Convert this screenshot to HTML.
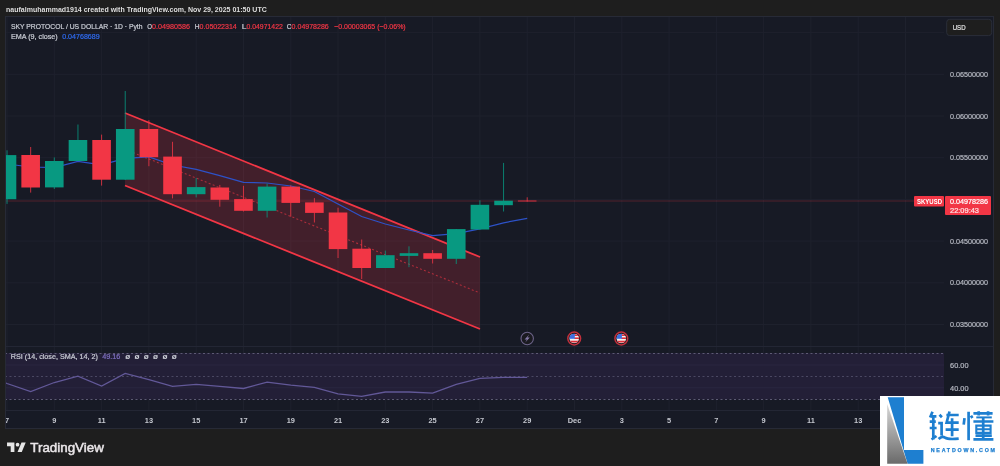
<!DOCTYPE html>
<html><head><meta charset="utf-8"><style>
html,body{margin:0;padding:0;}
body{width:1000px;height:466px;background:#1e1e1e;position:relative;overflow:hidden;font-family:"Liberation Sans",sans-serif;}
svg{position:absolute;left:0;top:0;font-family:"Liberation Sans",sans-serif;will-change:transform;}
</style></head><body>
<svg width="1000" height="466" viewBox="0 0 1000 466">
<rect x="6" y="17" width="988" height="411" fill="#171a25"/>
<line x1="7.0" y1="17" x2="7.0" y2="411" stroke="#1e212d" stroke-width="1"/>
<line x1="54.3" y1="17" x2="54.3" y2="411" stroke="#1e212d" stroke-width="1"/>
<line x1="101.6" y1="17" x2="101.6" y2="411" stroke="#1e212d" stroke-width="1"/>
<line x1="148.9" y1="17" x2="148.9" y2="411" stroke="#1e212d" stroke-width="1"/>
<line x1="196.2" y1="17" x2="196.2" y2="411" stroke="#1e212d" stroke-width="1"/>
<line x1="243.5" y1="17" x2="243.5" y2="411" stroke="#1e212d" stroke-width="1"/>
<line x1="290.8" y1="17" x2="290.8" y2="411" stroke="#1e212d" stroke-width="1"/>
<line x1="338.0" y1="17" x2="338.0" y2="411" stroke="#1e212d" stroke-width="1"/>
<line x1="385.3" y1="17" x2="385.3" y2="411" stroke="#1e212d" stroke-width="1"/>
<line x1="432.6" y1="17" x2="432.6" y2="411" stroke="#1e212d" stroke-width="1"/>
<line x1="479.9" y1="17" x2="479.9" y2="411" stroke="#1e212d" stroke-width="1"/>
<line x1="527.2" y1="17" x2="527.2" y2="411" stroke="#1e212d" stroke-width="1"/>
<line x1="574.5" y1="17" x2="574.5" y2="411" stroke="#1e212d" stroke-width="1"/>
<line x1="621.8" y1="17" x2="621.8" y2="411" stroke="#1e212d" stroke-width="1"/>
<line x1="669.1" y1="17" x2="669.1" y2="411" stroke="#1e212d" stroke-width="1"/>
<line x1="716.4" y1="17" x2="716.4" y2="411" stroke="#1e212d" stroke-width="1"/>
<line x1="763.6" y1="17" x2="763.6" y2="411" stroke="#1e212d" stroke-width="1"/>
<line x1="810.9" y1="17" x2="810.9" y2="411" stroke="#1e212d" stroke-width="1"/>
<line x1="858.2" y1="17" x2="858.2" y2="411" stroke="#1e212d" stroke-width="1"/>
<line x1="905.5" y1="17" x2="905.5" y2="411" stroke="#1e212d" stroke-width="1"/>
<line x1="6" y1="32.6" x2="944" y2="32.6" stroke="#1e212d" stroke-width="1"/>
<line x1="6" y1="74.3" x2="944" y2="74.3" stroke="#1e212d" stroke-width="1"/>
<line x1="6" y1="116.0" x2="944" y2="116.0" stroke="#1e212d" stroke-width="1"/>
<line x1="6" y1="157.7" x2="944" y2="157.7" stroke="#1e212d" stroke-width="1"/>
<line x1="6" y1="199.4" x2="944" y2="199.4" stroke="#1e212d" stroke-width="1"/>
<line x1="6" y1="241.1" x2="944" y2="241.1" stroke="#1e212d" stroke-width="1"/>
<line x1="6" y1="282.8" x2="944" y2="282.8" stroke="#1e212d" stroke-width="1"/>
<line x1="6" y1="324.5" x2="944" y2="324.5" stroke="#1e212d" stroke-width="1"/>
<line x1="6" y1="346.5" x2="994" y2="346.5" stroke="#232634" stroke-width="1"/>
<line x1="6" y1="410.5" x2="994" y2="410.5" stroke="#232634" stroke-width="1"/>
<rect x="6" y="353" width="938" height="46.5" fill="#231f37"/>
<line x1="6" y1="365" x2="944" y2="365" stroke="#2a2740" stroke-width="1"/>
<line x1="6" y1="387.8" x2="944" y2="387.8" stroke="#2a2740" stroke-width="1"/>
<line x1="6" y1="353.5" x2="944" y2="353.5" stroke="#5d5a74" stroke-width="1" stroke-dasharray="2,2.5" stroke-dashoffset="1"/>
<line x1="6" y1="376.5" x2="944" y2="376.5" stroke="#4b4862" stroke-width="1" stroke-dasharray="2,2.5" stroke-dashoffset="1"/>
<line x1="6" y1="399.5" x2="944" y2="399.5" stroke="#5d5a74" stroke-width="1" stroke-dasharray="2,2.5" stroke-dashoffset="1"/>
<polyline points="6,383 7.0,383.5 30.7,391.6 54.3,382.5 77.9,376.2 101.6,386 125.2,373.4 148.9,379.7 172.5,386.3 196.2,384.3 219.8,386.3 243.5,388.5 267.1,382.1 290.8,385.2 314.4,387.3 338.0,393.8 361.7,396.4 385.3,392 409.0,392 432.6,393.1 456.3,384.3 479.9,378.4 503.6,377.3 527.2,377.3" fill="none" stroke="#625898" stroke-width="1.3"/>
<line x1="6" y1="201" x2="944" y2="201" stroke="#f23645" stroke-opacity="0.28" stroke-width="1"/>
<polygon points="125,113 480,257 480,329 125,185.5" fill="rgba(242,54,69,0.2)"/>
<line x1="125" y1="113" x2="480" y2="257" stroke="#f23645" stroke-width="1.8"/>
<line x1="125" y1="185.5" x2="480" y2="329" stroke="#f23645" stroke-width="1.8"/>
<line x1="125" y1="149.3" x2="480" y2="293" stroke="#f23645" stroke-opacity="0.6" stroke-width="1.1" stroke-dasharray="2,2.3"/>
<polyline points="6,163.5 7.0,164 30.7,167 54.3,167.5 77.9,161.5 101.6,164.8 125.2,158.4 148.9,157 172.5,165 196.2,169.4 219.8,175.6 243.5,182.3 267.1,183 290.8,186 314.4,191.5 338.0,204 361.7,216.5 385.3,224 409.0,230 432.6,235.5 456.3,233.7 479.9,228.8 503.6,222.8 527.2,218.3" fill="none" stroke="#2d52c8" stroke-width="1.25"/>
<rect x="6.51" y="150.3" width="1" height="53.60" fill="#089981" fill-opacity="0.8"/>
<rect x="-2.29" y="155.1" width="18.6" height="44.10" fill="#089981"/>
<rect x="30.16" y="147" width="1" height="45.60" fill="#f23645" fill-opacity="0.8"/>
<rect x="21.36" y="155" width="18.6" height="32.50" fill="#f23645"/>
<rect x="53.80" y="157.4" width="1" height="31.60" fill="#089981" fill-opacity="0.8"/>
<rect x="45.00" y="161" width="18.6" height="26.40" fill="#089981"/>
<rect x="77.45" y="124.5" width="1" height="36.50" fill="#089981" fill-opacity="0.8"/>
<rect x="68.65" y="140" width="18.6" height="21.00" fill="#089981"/>
<rect x="101.09" y="134.6" width="1" height="51.00" fill="#f23645" fill-opacity="0.8"/>
<rect x="92.29" y="140" width="18.6" height="39.70" fill="#f23645"/>
<rect x="124.73" y="91" width="1" height="89.00" fill="#089981" fill-opacity="0.8"/>
<rect x="115.94" y="129" width="18.6" height="50.70" fill="#089981"/>
<rect x="148.38" y="120.2" width="1" height="46.00" fill="#f23645" fill-opacity="0.8"/>
<rect x="139.58" y="129" width="18.6" height="28.20" fill="#f23645"/>
<rect x="172.02" y="141.8" width="1" height="56.60" fill="#f23645" fill-opacity="0.8"/>
<rect x="163.22" y="156.6" width="18.6" height="37.60" fill="#f23645"/>
<rect x="195.67" y="178" width="1" height="19.40" fill="#089981" fill-opacity="0.8"/>
<rect x="186.87" y="187.1" width="18.6" height="7.10" fill="#089981"/>
<rect x="219.31" y="184.9" width="1" height="21.80" fill="#f23645" fill-opacity="0.8"/>
<rect x="210.51" y="187.5" width="18.6" height="12.30" fill="#f23645"/>
<rect x="242.96" y="185.8" width="1" height="25.70" fill="#f23645" fill-opacity="0.8"/>
<rect x="234.16" y="199.1" width="18.6" height="11.70" fill="#f23645"/>
<rect x="266.60" y="183.5" width="1" height="34.00" fill="#089981" fill-opacity="0.8"/>
<rect x="257.80" y="186.6" width="18.6" height="24.20" fill="#089981"/>
<rect x="290.25" y="185.4" width="1" height="31.30" fill="#f23645" fill-opacity="0.8"/>
<rect x="281.45" y="186.6" width="18.6" height="16.30" fill="#f23645"/>
<rect x="313.89" y="198.1" width="1" height="24.40" fill="#f23645" fill-opacity="0.8"/>
<rect x="305.09" y="202.4" width="18.6" height="10.50" fill="#f23645"/>
<rect x="337.54" y="207.7" width="1" height="50.30" fill="#f23645" fill-opacity="0.8"/>
<rect x="328.74" y="212.5" width="18.6" height="36.60" fill="#f23645"/>
<rect x="361.19" y="239.5" width="1" height="39.50" fill="#f23645" fill-opacity="0.8"/>
<rect x="352.38" y="248.7" width="18.6" height="19.30" fill="#f23645"/>
<rect x="384.83" y="250.6" width="1" height="17.40" fill="#089981" fill-opacity="0.8"/>
<rect x="376.03" y="255.2" width="18.6" height="12.80" fill="#089981"/>
<rect x="408.47" y="246.3" width="1" height="20.90" fill="#089981" fill-opacity="0.8"/>
<rect x="399.67" y="253.2" width="18.6" height="2.70" fill="#089981"/>
<rect x="432.12" y="250" width="1" height="13.50" fill="#f23645" fill-opacity="0.8"/>
<rect x="423.32" y="253.2" width="18.6" height="5.60" fill="#f23645"/>
<rect x="455.76" y="229" width="1" height="35.00" fill="#089981" fill-opacity="0.8"/>
<rect x="446.96" y="229.1" width="18.6" height="29.70" fill="#089981"/>
<rect x="479.41" y="200.3" width="1" height="29.20" fill="#089981" fill-opacity="0.8"/>
<rect x="470.61" y="204.8" width="18.6" height="24.70" fill="#089981"/>
<rect x="503.06" y="162.9" width="1" height="48.60" fill="#089981" fill-opacity="0.8"/>
<rect x="494.25" y="200.7" width="18.6" height="4.50" fill="#089981"/>
<rect x="526.70" y="197.3" width="1" height="4.30" fill="#f23645" fill-opacity="0.8"/>
<rect x="517.90" y="200.4" width="18.6" height="1.20" fill="#f23645" fill-opacity="0.7"/>
<g transform="translate(527.2,338.5)"><circle r="6.2" fill="#1a1a20" stroke="#6c6388" stroke-width="1.1"/><path d="M2,-4 L-2.6,0.9 L-0.3,0.9 L-2,4 L2.6,-0.9 L0.3,-0.9 Z" fill="#857aa8"/></g>
<g transform="translate(574.2,338.5)"><circle r="6.4" fill="#1a1a20" stroke="#c2303c" stroke-width="1.5"/><clipPath id="fc"><circle r="4.8"/></clipPath><g clip-path="url(#fc)"><rect x="-5" y="-5" width="10" height="10" fill="#f2f2f2"/><rect x="0" y="-4.2" width="5" height="1.7" fill="#e0303a"/><rect x="0" y="-1.1" width="5" height="1.6" fill="#e0303a"/><rect x="-5" y="2.2" width="10" height="1.8" fill="#e0303a"/><rect x="-5" y="-5" width="5.6" height="5.3" fill="#3d6fe0"/></g></g>
<g transform="translate(621.3,338.5)"><circle r="6.4" fill="#1a1a20" stroke="#c2303c" stroke-width="1.5"/><clipPath id="fc"><circle r="4.8"/></clipPath><g clip-path="url(#fc)"><rect x="-5" y="-5" width="10" height="10" fill="#f2f2f2"/><rect x="0" y="-4.2" width="5" height="1.7" fill="#e0303a"/><rect x="0" y="-1.1" width="5" height="1.6" fill="#e0303a"/><rect x="-5" y="2.2" width="10" height="1.8" fill="#e0303a"/><rect x="-5" y="-5" width="5.6" height="5.3" fill="#3d6fe0"/></g></g>
<rect x="0" y="0" width="6" height="466" fill="#1e1e1e"/>
<text x="6" y="12" font-size="7.1" fill="#dedede" font-weight="bold" text-anchor="start" textLength="260.8" lengthAdjust="spacingAndGlyphs">naufalmuhammad1914 created with TradingView.com, Nov 29, 2025 01:50 UTC</text>
<text x="11" y="29.1" font-size="7.8" fill="#c9ccd4" font-weight="normal" text-anchor="start" textLength="131.5" lengthAdjust="spacingAndGlyphs" stroke="#c9ccd4" stroke-width="0.22">SKY PROTOCOL / US DOLLAR · 1D · Pyth</text>
<text x="147.3" y="29.1" font-size="7.8" fill="#c9ccd4" font-weight="normal" text-anchor="start" textLength="4.8" lengthAdjust="spacingAndGlyphs" stroke="#c9ccd4" stroke-width="0.22">O</text>
<text x="152.10000000000002" y="29.1" font-size="7.8" fill="#f23645" font-weight="normal" text-anchor="start" textLength="37.89999999999999" lengthAdjust="spacingAndGlyphs" stroke="#f23645" stroke-width="0.22">0.04980586</text>
<text x="194.8" y="29.1" font-size="7.8" fill="#c9ccd4" font-weight="normal" text-anchor="start" textLength="4.8" lengthAdjust="spacingAndGlyphs" stroke="#c9ccd4" stroke-width="0.22">H</text>
<text x="199.60000000000002" y="29.1" font-size="7.8" fill="#f23645" font-weight="normal" text-anchor="start" textLength="37.2" lengthAdjust="spacingAndGlyphs" stroke="#f23645" stroke-width="0.22">0.05022314</text>
<text x="241.7" y="29.1" font-size="7.8" fill="#c9ccd4" font-weight="normal" text-anchor="start" textLength="4.8" lengthAdjust="spacingAndGlyphs" stroke="#c9ccd4" stroke-width="0.22">L</text>
<text x="246.5" y="29.1" font-size="7.8" fill="#f23645" font-weight="normal" text-anchor="start" textLength="36.300000000000026" lengthAdjust="spacingAndGlyphs" stroke="#f23645" stroke-width="0.22">0.04971422</text>
<text x="286.8" y="29.1" font-size="7.8" fill="#c9ccd4" font-weight="normal" text-anchor="start" textLength="4.8" lengthAdjust="spacingAndGlyphs" stroke="#c9ccd4" stroke-width="0.22">C</text>
<text x="291.6" y="29.1" font-size="7.8" fill="#f23645" font-weight="normal" text-anchor="start" textLength="37.2" lengthAdjust="spacingAndGlyphs" stroke="#f23645" stroke-width="0.22">0.04978286</text>
<text x="334.2" y="29.1" font-size="7.8" fill="#f23645" font-weight="normal" text-anchor="start" textLength="71.5" lengthAdjust="spacingAndGlyphs" stroke="#f23645" stroke-width="0.22">−0.00003065 (−0.06%)</text>
<text x="11" y="39.3" font-size="7.8" fill="#c9ccd4" font-weight="normal" text-anchor="start" textLength="46.7" lengthAdjust="spacingAndGlyphs" stroke="#c9ccd4" stroke-width="0.22">EMA (9, close)</text>
<text x="62.2" y="39.3" font-size="7.8" fill="#2f6bf0" font-weight="normal" text-anchor="start" textLength="37.5" lengthAdjust="spacingAndGlyphs" stroke="#2f6bf0" stroke-width="0.22">0.04768689</text>
<text x="10.8" y="359" font-size="7.8" fill="#c9ccd4" font-weight="normal" text-anchor="start" textLength="87.1" lengthAdjust="spacingAndGlyphs" stroke="#c9ccd4" stroke-width="0.22">RSI (14, close, SMA, 14, 2)</text>
<text x="102.3" y="359" font-size="7.8" fill="#7e6fc0" font-weight="normal" text-anchor="start" textLength="18.1" lengthAdjust="spacingAndGlyphs" stroke="#7e6fc0" stroke-width="0.22">49.16</text>
<text x="125.2" y="359.2" font-size="8" fill="#c9ccd4" font-weight="bold" text-anchor="start" textLength="5" lengthAdjust="spacingAndGlyphs">ø</text>
<text x="134.5" y="359.2" font-size="8" fill="#c9ccd4" font-weight="bold" text-anchor="start" textLength="5" lengthAdjust="spacingAndGlyphs">ø</text>
<text x="143.8" y="359.2" font-size="8" fill="#c9ccd4" font-weight="bold" text-anchor="start" textLength="5" lengthAdjust="spacingAndGlyphs">ø</text>
<text x="153.1" y="359.2" font-size="8" fill="#c9ccd4" font-weight="bold" text-anchor="start" textLength="5" lengthAdjust="spacingAndGlyphs">ø</text>
<text x="162.5" y="359.2" font-size="8" fill="#c9ccd4" font-weight="bold" text-anchor="start" textLength="5" lengthAdjust="spacingAndGlyphs">ø</text>
<text x="171.8" y="359.2" font-size="8" fill="#c9ccd4" font-weight="bold" text-anchor="start" textLength="5" lengthAdjust="spacingAndGlyphs">ø</text>
<text x="950" y="76.9" font-size="7.6" fill="#b4b7c0" font-weight="normal" text-anchor="start" textLength="38" lengthAdjust="spacingAndGlyphs" stroke="#b4b7c0" stroke-width="0.22">0.06500000</text>
<text x="950" y="118.6" font-size="7.6" fill="#b4b7c0" font-weight="normal" text-anchor="start" textLength="38" lengthAdjust="spacingAndGlyphs" stroke="#b4b7c0" stroke-width="0.22">0.06000000</text>
<text x="950" y="160.3" font-size="7.6" fill="#b4b7c0" font-weight="normal" text-anchor="start" textLength="38" lengthAdjust="spacingAndGlyphs" stroke="#b4b7c0" stroke-width="0.22">0.05500000</text>
<text x="950" y="243.7" font-size="7.6" fill="#b4b7c0" font-weight="normal" text-anchor="start" textLength="38" lengthAdjust="spacingAndGlyphs" stroke="#b4b7c0" stroke-width="0.22">0.04500000</text>
<text x="950" y="285.4" font-size="7.6" fill="#b4b7c0" font-weight="normal" text-anchor="start" textLength="38" lengthAdjust="spacingAndGlyphs" stroke="#b4b7c0" stroke-width="0.22">0.04000000</text>
<text x="950" y="327.1" font-size="7.6" fill="#b4b7c0" font-weight="normal" text-anchor="start" textLength="38" lengthAdjust="spacingAndGlyphs" stroke="#b4b7c0" stroke-width="0.22">0.03500000</text>
<text x="950.1" y="367.9" font-size="7.6" fill="#b4b7c0" font-weight="normal" text-anchor="start" textLength="18.4" lengthAdjust="spacingAndGlyphs" stroke="#b4b7c0" stroke-width="0.22">60.00</text>
<text x="950.1" y="390.7" font-size="7.6" fill="#b4b7c0" font-weight="normal" text-anchor="start" textLength="18.4" lengthAdjust="spacingAndGlyphs" stroke="#b4b7c0" stroke-width="0.22">40.00</text>
<text x="7.0" y="423" font-size="7.4" fill="#c4c7cf" font-weight="bold" text-anchor="middle">7</text>
<text x="54.3" y="423" font-size="7.4" fill="#c4c7cf" font-weight="bold" text-anchor="middle">9</text>
<text x="101.6" y="423" font-size="7.4" fill="#c4c7cf" font-weight="bold" text-anchor="middle">11</text>
<text x="148.9" y="423" font-size="7.4" fill="#c4c7cf" font-weight="bold" text-anchor="middle">13</text>
<text x="196.2" y="423" font-size="7.4" fill="#c4c7cf" font-weight="bold" text-anchor="middle">15</text>
<text x="243.5" y="423" font-size="7.4" fill="#c4c7cf" font-weight="bold" text-anchor="middle">17</text>
<text x="290.8" y="423" font-size="7.4" fill="#c4c7cf" font-weight="bold" text-anchor="middle">19</text>
<text x="338.0" y="423" font-size="7.4" fill="#c4c7cf" font-weight="bold" text-anchor="middle">21</text>
<text x="385.3" y="423" font-size="7.4" fill="#c4c7cf" font-weight="bold" text-anchor="middle">23</text>
<text x="432.6" y="423" font-size="7.4" fill="#c4c7cf" font-weight="bold" text-anchor="middle">25</text>
<text x="479.9" y="423" font-size="7.4" fill="#c4c7cf" font-weight="bold" text-anchor="middle">27</text>
<text x="527.2" y="423" font-size="7.4" fill="#c4c7cf" font-weight="bold" text-anchor="middle">29</text>
<text x="574.5" y="423" font-size="7.4" fill="#c4c7cf" font-weight="bold" text-anchor="middle">Dec</text>
<text x="621.8" y="423" font-size="7.4" fill="#c4c7cf" font-weight="bold" text-anchor="middle">3</text>
<text x="669.1" y="423" font-size="7.4" fill="#c4c7cf" font-weight="bold" text-anchor="middle">5</text>
<text x="716.4" y="423" font-size="7.4" fill="#c4c7cf" font-weight="bold" text-anchor="middle">7</text>
<text x="763.6" y="423" font-size="7.4" fill="#c4c7cf" font-weight="bold" text-anchor="middle">9</text>
<text x="810.9" y="423" font-size="7.4" fill="#c4c7cf" font-weight="bold" text-anchor="middle">11</text>
<text x="858.2" y="423" font-size="7.4" fill="#c4c7cf" font-weight="bold" text-anchor="middle">13</text>
<rect x="946.7" y="19.3" width="45" height="16.3" rx="3" fill="#1e1e1e" stroke="#2a2e39" stroke-width="1"/>
<text x="952.7" y="29.9" font-size="7.8" fill="#e0e0e0" font-weight="normal" text-anchor="start" textLength="12.9" lengthAdjust="spacingAndGlyphs" stroke="#e0e0e0" stroke-width="0.22">USD</text>
<rect x="914" y="196" width="30" height="10.5" rx="1" fill="#f23645"/>
<rect x="945" y="196" width="46" height="19" rx="1" fill="#f23645"/>
<text x="917" y="204.2" font-size="7.2" fill="#ffffff" font-weight="bold" text-anchor="start" textLength="25" lengthAdjust="spacingAndGlyphs">SKYUSD</text>
<text x="950" y="204.3" font-size="7.8" fill="#ffffff" font-weight="normal" text-anchor="start" textLength="38" lengthAdjust="spacingAndGlyphs" stroke="#ffffff" stroke-width="0.22">0.04978286</text>
<text x="950" y="213" font-size="7.8" fill="#ffe0e2" font-weight="normal" text-anchor="start" textLength="29" lengthAdjust="spacingAndGlyphs" stroke="#ffe0e2" stroke-width="0.22">22:09:43</text>
<rect x="5.5" y="16.5" width="988" height="412" fill="none" stroke="#272a36" stroke-width="1"/>
</svg>
<svg style="left:7px;top:442px" width="19" height="10" viewBox="0 0 36 19">
<path fill="#e6e6e6" d="M14 19H7V8H0V1h14v18zM28 19h-8l7.5-18h8L28 19z"/><circle fill="#e6e6e6" cx="20" cy="5" r="3.5"/>
</svg>
<svg style="left:0;top:0" width="1000" height="466" viewBox="0 0 1000 466">
<text x="30.3" y="451.6" font-size="12.4" font-weight="normal" fill="#ebe7ea" stroke="#ebe7ea" stroke-width="0.45" textLength="73.5" lengthAdjust="spacingAndGlyphs">TradingView</text>
<rect x="880" y="396" width="120" height="70" fill="#ffffff"/>
<defs><linearGradient id="lg" x1="0" y1="0" x2="0" y2="1"><stop offset="0" stop-color="#d8d8d8"/><stop offset="1" stop-color="#6a6a6a"/></linearGradient></defs>
<polygon points="887.7,397.3 904,397.3 904,450 923.4,450 923.4,463.7 907.6,463.7" fill="#1e7fd0"/>
<polygon points="887.2,403.9 907.6,463.7 887.2,463.7" fill="url(#lg)"/>
<g fill="none" stroke="#1e7fd0" stroke-width="2.7" stroke-linecap="butt">
<path d="M932.5,411.7 L930.1,417.4 M930.9,416.4 H936.4 M929.7,421.6 H935.8 M929.7,428 H936.6 M933.3,416.6 V439.5 M931.5,439.5 L936.5,436"/>
<path d="M939.5,414.8 L941.9,417.2 M938.2,423.1 H941.6 V435.4 M938.6,439 Q942,435.5 945,437.6 T958.7,438.6"/>
<path d="M946.4,415 H958.7 M949.5,411.5 L946.6,422.6 H958.7 M945.6,429.7 H958.7 M952.1,418.2 V436.2"/>
<path d="M968.6,411.7 V440.2 M964.5,418.2 L963.7,424.7 M971,415.6 L972.4,418"/>
<path d="M973.4,413.3 H992.6 M978.7,411.3 V415.4 M988.1,411.3 V415.4 M973.4,421.5 H993.4 M975.5,435.7 H991.8 M973.4,439.4 H993.4 M983.2,417.4 V439.4"/>
<path d="M976.3,417.4 H991.8" stroke-width="2"/>
<path d="M976.3,425.6 H990.6 V432.9 H976.3 Z M976.3,429.2 H990.6" stroke-width="2.1"/>
</g>
<text x="930.7" y="451.8" font-size="5.3" font-weight="bold" fill="#1e7fd0" textLength="64.3" lengthAdjust="spacing" stroke="#1e7fd0" stroke-width="0.25">NEATDOWN.COM</text>
</svg>
</body></html>
